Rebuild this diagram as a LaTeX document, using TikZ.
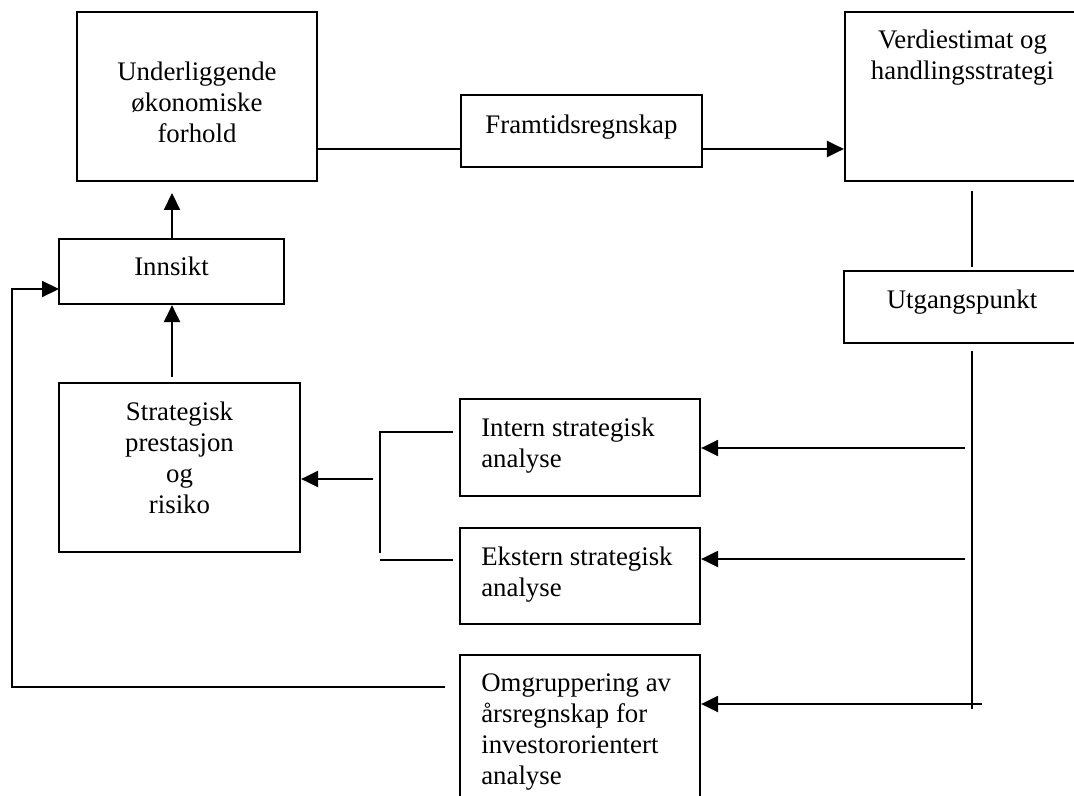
\documentclass[tikz,border=0pt]{standalone}
\usepackage{fontspec}
\setmainfont{Liberation Serif}
\usetikzlibrary{arrows.meta,positioning}

\begin{document}
\begin{tikzpicture}[
x=0.5pt, y=-0.5pt,
Boxes/.style={draw,line width=1.1pt,inner sep=0pt},
BoxText/.style={inner sep=0pt,align=center,font=\fontsize{13.4}{15.5}\selectfont},
LeftText/.style={BoxText,align=left},
Lines/.style={line width=1.1pt},
Arrows/.style={line width=1.1pt,-{Triangle[length=8.5pt, width=8pt]}}
]
\useasboundingbox (0,0) rectangle (1074,796);
\clip (0,0) rectangle (1074,796);

% boxes
\node[Boxes,minimum width=120pt,minimum height=84.5pt] (Under) at (197,96.5) {};
\node[Boxes,minimum width=120.5pt,minimum height=36pt] (Framtid) at (581.5,131) {};
\node[Boxes,minimum width=117.5pt,minimum height=84.5pt] (Verdi) at (962.5,96.5) {};
\node[Boxes,minimum width=118pt,minimum height=36pt] (Utgang) at (962,307) {};
\node[Boxes,minimum width=112.5pt,minimum height=32.5pt] (Innsikt) at (171.5,271.5) {};
\node[Boxes,minimum width=120.5pt,minimum height=84.5pt] (Strat) at (179.5,467.5) {};
\node[Boxes,minimum width=120pt,minimum height=48.5pt] (Intern) at (580,447.5) {};
\node[Boxes,minimum width=120pt,minimum height=48pt] (Ekstern) at (580,576) {};
\node[Boxes,minimum width=120pt,minimum height=82.5pt] (Omgr) at (580,737.5) {};

% texts
\node[BoxText,below=25.5pt of Under.north] (UnderText) {Underliggende\\økonomiske\\forhold};
\node[BoxText,below=10.5pt of Framtid.north] (FramtidText) {Framtidsregnskap};
\node[BoxText,below=9.5pt of Verdi.north] (VerdiText) {Verdiestimat og\\handlingsstrategi};
\node[BoxText,below=10pt of Utgang.north] (UtgangText) {Utgangspunkt};
\node[BoxText,below=9.5pt of Innsikt.north] (InnsiktText) {Innsikt};
\node[BoxText,below=10pt of Strat.north] (StratText) {Strategisk\\prestasjon\\og\\risiko};
\node[LeftText,below right=10pt and 11pt of Intern.north west] (InternText) {Intern strategisk\\analyse};
\node[LeftText,below right=10pt and 11pt of Ekstern.north west] (EksternText) {Ekstern strategisk\\analyse};
\node[LeftText,below right=9.5pt and 11pt of Omgr.north west] (OmgrText) {Omgruppering av\\årsregnskap for\\investororientert\\analyse};

% top row
\coordinate (UnderOut) at (317,149);
\draw[Lines] (UnderOut) -- (UnderOut -| Framtid.west);
\draw[Arrows] (UnderOut -| Framtid.east) -- (UnderOut -| Verdi.west);

% right column
\coordinate (VerdiDown) at (972,191);
\draw[Lines] (VerdiDown) -- ++(0,76);
\coordinate (UtgangDown) at (972,351);
\draw[Lines] (UtgangDown) -- ++(0,358);

\coordinate (InternFrom) at (965,448);
\coordinate (EksternFrom) at (965,559);
\coordinate (OmgrFrom) at (982,704);
\draw[Arrows] (InternFrom) -- (InternFrom -| Intern.east);
\draw[Arrows] (EksternFrom) -- (EksternFrom -| Ekstern.east);
\draw[Arrows] (OmgrFrom) -- (OmgrFrom -| Omgr.east);

% bracket to strategy box
\coordinate (BrTop) at (453,432);
\coordinate (BrBot) at (453,560);
\draw[Lines] (BrTop) -- ++(-73,0) -- ++(0,121);
\draw[Lines] (BrBot) -- ++(-73,0);
\coordinate (StratIn) at (373,479);
\draw[Arrows] (StratIn) -- (StratIn -| Strat.east);

% left column
\coordinate (UnderTip) at (172,193);
\draw[Arrows] (UnderTip |- Innsikt.north) -- (UnderTip);
\coordinate (StratTop) at (172,377);
\draw[Arrows] (StratTop) -- (StratTop |- Innsikt.south);

% feedback line
\coordinate (FbEnd) at (445,687);
\coordinate (FbCorner) at (12,687);
\coordinate (InnsiktIn) at (59,289);
\draw[Arrows] (FbEnd) -- (FbCorner) |- (InnsiktIn);

\end{tikzpicture}
\end{document}
